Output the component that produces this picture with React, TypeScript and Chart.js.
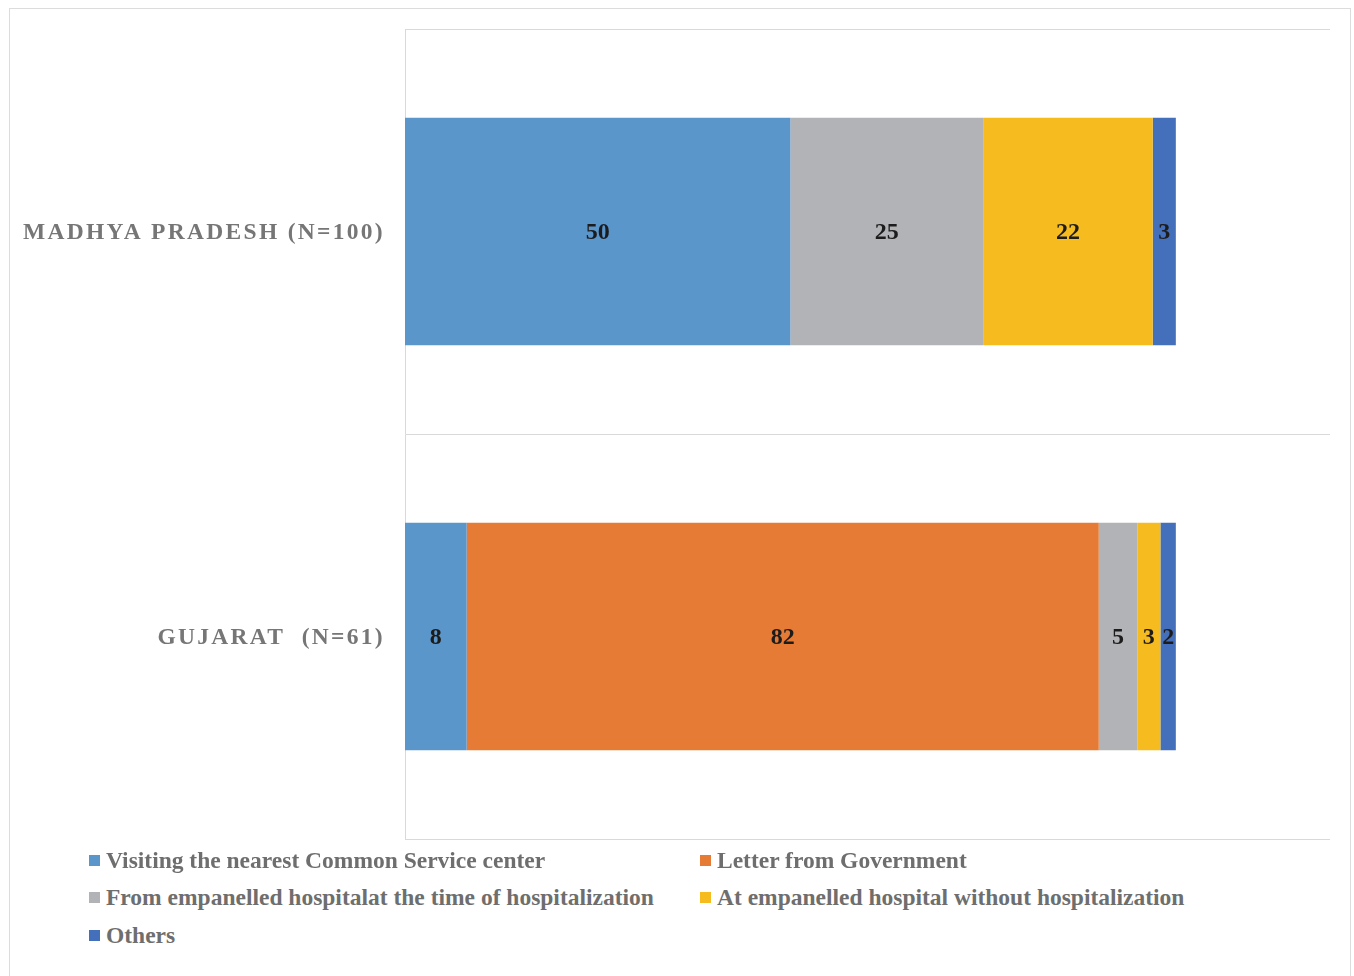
import React, { useEffect, useRef } from "react";
import { Chart, registerables } from "chart.js";

Chart.register(...registerables);

// Categories and series (percent of respondents)
const states = ["MADHYA PRADESH (N=100)", "GUJARAT  (N=61)"];
const seriesNames = [
  "Visiting the nearest Common Service center",
  "Letter from Government",
  "From empanelled hospitalat the time of hospitalization",
  "At empanelled hospital without hospitalization",
  "Others",
];
const commonServiceCenter = [50, 8];
const letterFromGovernment = [0, 82];
const atHospitalization = [25, 5];
const withoutHospitalization = [22, 3];
const others = [3, 2];

const seriesValues = [
  commonServiceCenter,
  letterFromGovernment,
  atHospitalization,
  withoutHospitalization,
  others,
];
const seriesColors = ["#5B96CB", "#E57B34", "#B2B3B6", "#F5BB1F", "#4470BB"];

const SERIF = '"Liberation Serif", "Times New Roman", serif';

// Value labels centred in each stacked segment
const segmentLabels = {
  id: "segmentLabels",
  afterDatasetsDraw(chart: any) {
    const ctx = chart.ctx;
    ctx.save();
    ctx.font = `bold 24px ${SERIF}`;
    ctx.fillStyle = "#1c1c1c";
    ctx.textAlign = "center";
    ctx.textBaseline = "middle";
    chart.data.datasets.forEach((ds: any, di: number) => {
      const meta = chart.getDatasetMeta(di);
      meta.data.forEach((bar: any, i: number) => {
        const v = ds.data[i];
        if (!v) return;
        const { x, base, y } = bar.getProps(["x", "base", "y"], true);
        ctx.fillText(String(v), (x + base) / 2, y + 1);
      });
    });
    ctx.restore();
  },
};

// Category labels with letter spacing, placed by the y scale
const categoryLabels = {
  id: "categoryLabels",
  afterDraw(chart: any) {
    const ctx = chart.ctx;
    const yScale = chart.scales.y;
    ctx.save();
    ctx.font = `bold 23.5px ${SERIF}`;
    ctx.fillStyle = "#767676";
    ctx.textAlign = "right";
    ctx.textBaseline = "middle";
    (ctx as any).letterSpacing = "2.3px";
    chart.data.labels.forEach((label: string, i: number) => {
      ctx.fillText(label, chart.chartArea.left - 20, yScale.getPixelForTick(i) + 1);
    });
    ctx.restore();
  },
};

export default function App() {
  const canvasRef = useRef<HTMLCanvasElement>(null);

  useEffect(() => {
    if (!canvasRef.current) return;
    const chart = new Chart(canvasRef.current, {
      type: "bar",
      data: {
        labels: states,
        datasets: seriesNames.map((name, i) => ({
          label: name,
          data: seriesValues[i],
          backgroundColor: seriesColors[i],
          borderWidth: 0,
          categoryPercentage: 1,
          barPercentage: 0.562,
        })),
      },
      options: {
        indexAxis: "y",
        animation: false,
        responsive: false,
        maintainAspectRatio: false,
        layout: { padding: { left: 395, top: 20, right: 20, bottom: 12 } },
        plugins: {
          legend: { display: false },
          tooltip: { enabled: false },
        },
        scales: {
          x: {
            stacked: true,
            min: 0,
            max: 120,
            display: false,
          },
          y: {
            stacked: true,
            offset: true,
            ticks: { display: false },
            grid: { color: "#D9D9D9", lineWidth: 1, drawTicks: false, offset: true },
            border: { display: true, color: "#D9D9D9", width: 1 },
          },
        },
      },
      plugins: [segmentLabels, categoryLabels],
    });
    return () => chart.destroy();
  }, []);

  const legendRows = [
    [0, 1],
    [2, 3],
    [4],
  ];

  return (
    <div
      style={{
        position: "absolute",
        left: 9,
        top: 8,
        width: 1342,
        height: 968,
        borderTop: "1px solid #DCDCDC",
        borderLeft: "1px solid #DCDCDC",
        borderRight: "1px solid #DCDCDC",
        background: "#fff",
        boxSizing: "border-box",
        overflow: "hidden",
      }}
    >
      <canvas
        ref={canvasRef}
        width={1340}
        height={842}
        style={{ position: "absolute", left: 0, top: 0, width: 1340, height: 842 }}
      />
      {legendRows.map((row, r) =>
        row.map((si, c) => (
          <div
            key={si}
            style={{
              position: "absolute",
              left: c === 0 ? 79 : 690,
              top: 838 + r * 37.5,
              height: 26,
              display: "flex",
              alignItems: "center",
              whiteSpace: "nowrap",
              fontFamily: SERIF,
              fontWeight: "bold",
              fontSize: 23.5,
              color: "#6E6E6E",
            }}
          >
            <span
              style={{
                display: "inline-block",
                width: 11,
                height: 11,
                background: seriesColors[si],
                marginRight: 6,
              }}
            />
            {seriesNames[si]}
          </div>
        ))
      )}
    </div>
  );
}
